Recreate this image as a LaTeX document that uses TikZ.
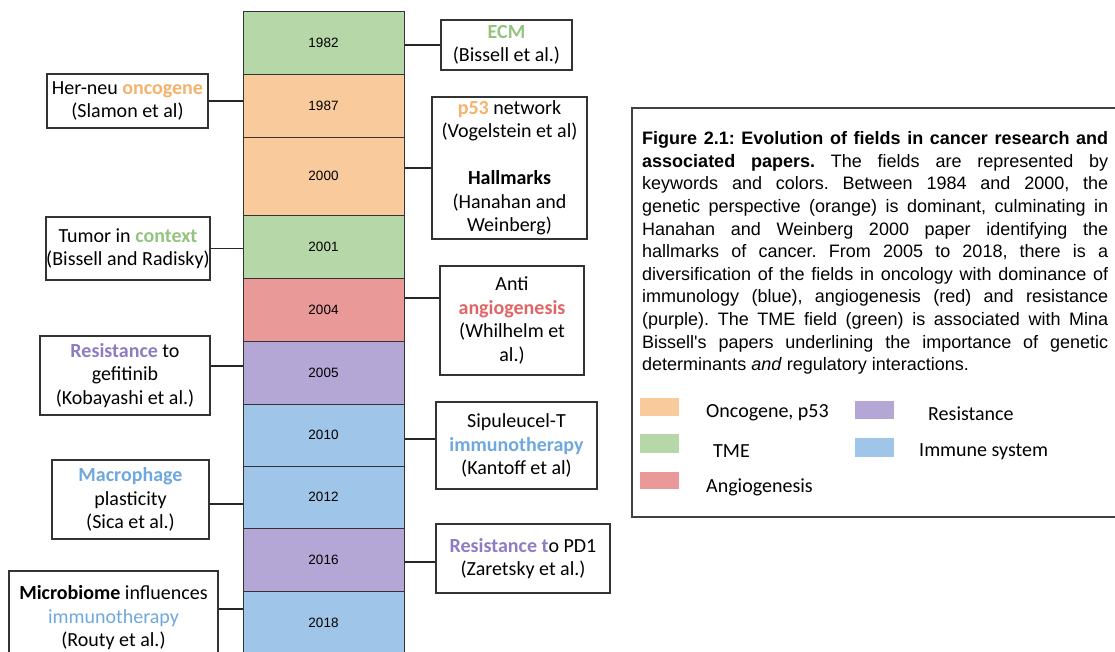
\documentclass[tikz,border=0pt]{standalone}
\usepackage{fontspec}
\setmainfont{Carlito}
\newfontfamily\arialfont{Liberation Sans}
\usepackage{tikz}

\definecolor{tmefill}{HTML}{B6D7A8}
\definecolor{oncofill}{HTML}{F9CB9C}
\definecolor{angiofill}{HTML}{EA9999}
\definecolor{resfill}{HTML}{B4A7D6}
\definecolor{immfill}{HTML}{9FC5E8}
\definecolor{tmetext}{HTML}{93C47D}
\definecolor{oncotext}{HTML}{F6B26B}
\definecolor{angiotext}{HTML}{E06666}
\definecolor{restext}{HTML}{8E7CC3}
\definecolor{immtext}{HTML}{6FA8DC}

\newcommand{\kw}[2]{\textbf{\color{#1}#2}}
\newcommand{\capline}[1]{\makebox[466pt][s]{#1}\\}

\begin{document}
\frenchspacing
\begin{tikzpicture}[x=1pt,y=-1pt,
    cell/.style={draw=black!80,line width=1pt,minimum width=161pt,inner sep=0pt,
      font=\arialfont\fontsize{13.5}{15}\selectfont},
    paper/.style={draw=black!80,line width=1.2pt,align=center,inner sep=0pt,
      font=\fontsize{20}{23.5}\selectfont},
    link/.style={draw=black!85,line width=1.3pt},
    swatch/.style={minimum width=39pt,minimum height=18pt,inner sep=0pt},
    legendtext/.style={anchor=west,inner sep=0pt,font=\fontsize{20}{22}\selectfont}]
  \useasboundingbox (0,0) rectangle (1115,651);
  \clip (0,0) rectangle (1115,651);

  % timeline
  \node[cell,fill=tmefill,minimum height=63pt] (y1982) at (323.5,42.5) {1982};
  \node[cell,fill=oncofill,minimum height=63pt] (y1987) at (323.5,105.5) {1987};
  \node[cell,fill=oncofill,minimum height=78pt] (y2000) at (323.5,176) {2000};
  \node[cell,fill=tmefill,minimum height=63pt] (y2001) at (323.5,246.5) {2001};
  \node[cell,fill=angiofill,minimum height=63pt] (y2004) at (323.5,309.5) {2004};
  \node[cell,fill=resfill,minimum height=63pt] (y2005) at (323.5,372.5) {2005};
  \node[cell,fill=immfill,minimum height=62pt] (y2010) at (323.5,435) {2010};
  \node[cell,fill=immfill,minimum height=62pt] (y2012) at (323.5,497) {2012};
  \node[cell,fill=resfill,minimum height=63pt] (y2016) at (323.5,559.5) {2016};
  \node[cell,fill=immfill,minimum height=63pt] (y2018) at (323.5,622.5) {2018};

  % papers on the left
  \node[paper,minimum width=161pt,minimum height=54pt] (her) at (127.5,101)
    {Her-neu \kw{oncotext}{oncogene}\\(Slamon et al)};
  \node[paper,minimum width=164pt,minimum height=63pt] (tumor) at (128,248.5)
    {Tumor in \kw{tmetext}{context}\\(Bissell and Radisky)};
  \node[paper,minimum width=170pt,minimum height=79pt] (gefit) at (125,375.5)
    {\kw{restext}{Resistance} to\\gefitinib\\(Kobayashi et al.)};
  \node[paper,minimum width=157pt,minimum height=79pt] (macro) at (130.5,499.5)
    {\kw{immtext}{Macrophage}\\plasticity\\(Sica et al.)};
  \node[paper,minimum width=209pt,minimum height=94pt] (micro) at (113.5,618)
    {\textbf{Microbiome} influences\\{\color{immtext}immunotherapy}\\(Routy et al.)};

  % papers on the right
  \node[paper,minimum width=131pt,minimum height=50pt] (ecm) at (506.5,45)
    {\kw{tmetext}{ECM}\\(Bissell et al.)};
  \node[paper,minimum width=155pt,minimum height=142pt] (p53) at (509.5,168)
    {\kw{oncotext}{p53} network\\(Vogelstein et al)\\[23.5pt]\textbf{Hallmarks}\\(Hanahan and\\Weinberg)};
  \node[paper,minimum width=144pt,minimum height=109pt] (anti) at (512,320.5)
    {Anti\\\kw{angiotext}{angiogenesis}\\(Whilhelm et\\al.)};
  \node[paper,minimum width=161pt,minimum height=87pt] (sipu) at (516.5,445.5)
    {Sipuleucel-T\\\kw{immtext}{immunotherapy}\\(Kantoff et al)};
  \node[paper,minimum width=174pt,minimum height=69pt] (pd1) at (523,558.5)
    {\kw{restext}{Resistance t}o PD1\\(Zaretsky et al.)};

  % connectors
  \draw[link] (her.east) -- (her.east -| y1987.west);
  \draw[link] (tumor.east) -- (tumor.east -| y2001.west);
  \coordinate (gefitc) at ([yshift=9.5pt]gefit.east);
  \draw[link] (gefitc) -- (gefitc -| y2005.west);
  \coordinate (macroc) at ([yshift=-4.5pt]macro.east);
  \draw[link] (macroc) -- (macroc -| y2012.west);
  \coordinate (microc) at ([yshift=9pt]micro.east);
  \draw[link] (microc) -- (microc -| y2018.west);
  \draw[link] (ecm.west) -- (ecm.west -| y1982.east);
  \draw[link] (p53.west) -- (p53.west -| y2000.east);
  \coordinate (antic) at ([yshift=22.5pt]anti.west);
  \draw[link] (antic) -- (antic -| y2004.east);
  \coordinate (sipuc) at ([yshift=6.5pt]sipu.west);
  \draw[link] (sipuc) -- (sipuc -| y2010.east);
  \coordinate (pd1c) at ([yshift=-3.5pt]pd1.west);
  \draw[link] (pd1c) -- (pd1c -| y2016.east);

  % caption and legend
  \draw[line width=1.2pt,draw=black!75] (632,108) rectangle (1130,517);
  \node[anchor=north west,inner sep=0pt,align=left,
    font=\arialfont\fontsize{18}{22.6}\selectfont] (caption) at (642,131.5)
    {\capline{\textbf{Figure 2.1: Evolution of fields in cancer research and}}
    \capline{\textbf{associated papers.} The fields are represented by}
    \capline{keywords and colors. Between 1984 and 2000, the}
    \capline{genetic perspective (orange) is dominant, culminating in}
    \capline{Hanahan and Weinberg 2000 paper identifying the}
    \capline{hallmarks of cancer. From 2005 to 2018, there is a}
    \capline{diversification of the fields in oncology with dominance of}
    \capline{immunology (blue), angiogenesis (red) and resistance}
    \capline{(purple). The TME field (green) is associated with Mina}
    \capline{Bissell's papers underlining the importance of genetic}
    determinants \textit{and} regulatory interactions.};

  \node[swatch,fill=oncofill] (sonco) at (659.5,407) {};
  \node[swatch,fill=tmefill,minimum height=19pt] (stme) at (659.5,443.5) {};
  \node[swatch,fill=angiofill,minimum height=17pt] (sangio) at (659.5,480.5) {};
  \node[swatch,fill=resfill] (sres) at (874.5,410) {};
  \node[swatch,fill=immfill,minimum height=19pt] (simm) at (874.5,447.5) {};
  \node[legendtext] (lonco) at (706,413) {Oncogene, p53};
  \node[legendtext] (ltme) at (713,451) {TME};
  \node[legendtext] (langio) at (706,487) {Angiogenesis};
  \node[legendtext] (lres) at (928,414) {Resistance};
  \node[legendtext] (limm) at (919,452) {Immune system};
\end{tikzpicture}
\end{document}
